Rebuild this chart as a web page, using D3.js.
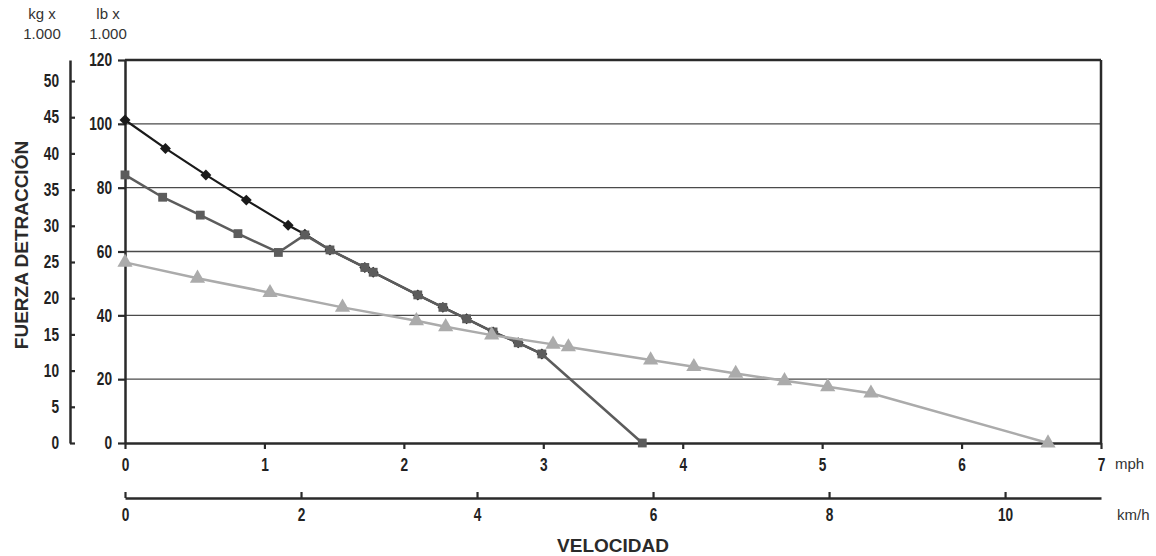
<!DOCTYPE html>
<html>
<head>
<meta charset="utf-8">
<script src="https://cdn.jsdelivr.net/npm/d3@7"></script>
<style>
  html, body { margin: 0; padding: 0; background: #fff; }
  svg { display: block; }
  .tick text { font-family: "Liberation Sans", Arial, sans-serif; font-weight: bold; font-size: 18px; fill: #222; }
</style>
</head>
<body>
<svg id="chart" width="1156" height="556"></svg>
<script>
// ---- data ----
const mphTicks = [0, 1, 2, 3, 4, 5, 6, 7];
const kmhTicks = [0, 2, 4, 6, 8, 10];
const lbTicks = [0, 20, 40, 60, 80, 100, 120];
const kgTicks = [0, 5, 10, 15, 20, 25, 30, 35, 40, 45, 50];
const gridLb = [20, 40, 60, 80, 100];

// Series 1 (black diamonds)
const mph1 = [0, 0.29, 0.58, 0.87, 1.17, 1.29, 1.47, 1.72, 1.78, 2.10, 2.28, 2.45, 2.64, 2.82, 2.99];
const lb1  = [101.2, 92.3, 84.0, 76.1, 68.2, 65.4, 60.5, 55.0, 53.5, 46.4, 42.5, 38.9, 34.8, 31.4, 27.9];
// Series 2 (dark grey squares)
const mph2 = [0, 0.27, 0.54, 0.81, 1.10, 1.29, 1.47, 1.72, 1.78, 2.10, 2.28, 2.45, 2.64, 2.82, 2.99, 3.71];
const lb2  = [84.0, 77.0, 71.4, 65.6, 59.7, 65.2, 60.5, 55.0, 53.5, 46.4, 42.5, 38.9, 34.8, 31.4, 27.9, 0];
// Series 3 (light grey triangles)
const mph3 = [0, 0.52, 1.04, 1.56, 2.09, 2.30, 2.63, 3.07, 3.18, 3.77, 4.08, 4.38, 4.73, 5.04, 5.35, 6.62];
const lb3  = [56.6, 51.6, 47.1, 42.5, 38.3, 36.4, 33.8, 30.9, 30.1, 26.0, 23.9, 21.8, 19.5, 17.6, 15.6, 0];

// ---- layout ----
const svg = d3.select("#chart");
const X0 = 125, X1 = 1101, Y0 = 443, Y1 = 60;
const x = d3.scaleLinear().domain([0, 7]).range([X0, X1]);
const y = d3.scaleLinear().domain([0, 120]).range([Y0, Y1]);
const yKg = d3.scaleLinear().domain([0, 52.9]).range([Y0, Y1]);
const xKmh = d3.scaleLinear().domain([0, 11.09]).range([X0, X1]);

const axisColor = "#2a2a2a";
const SX = 0.76; // horizontal condensing of tick digits

// gridlines
svg.append("g").selectAll("line").data(gridLb).join("line")
  .attr("x1", X0).attr("x2", X1)
  .attr("y1", d => y(d)).attr("y2", d => y(d))
  .attr("stroke", "#4a4a4a").attr("stroke-width", 1.3);

// top and right frame
svg.append("line").attr("x1", X0).attr("x2", X1).attr("y1", Y1).attr("y2", Y1)
  .attr("stroke", axisColor).attr("stroke-width", 2.5);
svg.append("line").attr("x1", X1).attr("x2", X1).attr("y1", Y1).attr("y2", Y0)
  .attr("stroke", axisColor).attr("stroke-width", 2.5);

function styleAxis(g) {
  g.select(".domain").attr("stroke", axisColor).attr("stroke-width", 2.5);
  g.selectAll(".tick line").attr("stroke", axisColor).attr("stroke-width", 2.2);
}
function condense(g, xoff) {
  g.selectAll(".tick text").each(function () {
    const t = d3.select(this);
    const x0 = xoff !== undefined ? xoff : (+t.attr("x") || 0);
    t.attr("x", x0 / SX).attr("transform", `scale(${SX},1)`);
  });
}

// lb axis (left of plot)
const gLb = svg.append("g").attr("transform", `translate(${X0},0)`)
  .call(d3.axisLeft(y).tickValues(lbTicks).tickSize(7).tickSizeOuter(0).tickPadding(6).tickFormat(d3.format("d")));
styleAxis(gLb);
condense(gLb);

// kg axis (outer left)
const gKg = svg.append("g").attr("transform", `translate(70,0)`)
  .call(d3.axisRight(yKg).tickValues(kgTicks).tickSize(5).tickSizeOuter(0).tickFormat(d3.format("d")));
styleAxis(gKg);
gKg.selectAll(".tick text").attr("text-anchor", "end");
condense(gKg, -11);

// mph axis
const gMph = svg.append("g").attr("transform", `translate(0,${Y0})`)
  .call(d3.axisBottom(x).tickValues(mphTicks).tickSize(6).tickSizeOuter(0).tickPadding(9).tickFormat(d3.format("d")));
styleAxis(gMph);
condense(gMph);

// km/h axis
const gKmh = svg.append("g").attr("transform", `translate(0,498)`)
  .call(d3.axisTop(xKmh).tickValues(kmhTicks).tickSize(6).tickSizeOuter(0).tickFormat(d3.format("d")));
styleAxis(gKmh);
gKmh.selectAll(".tick text").attr("y", 10).attr("dy", "0.71em");
condense(gKmh);

// series
const line = d3.line().x(d => x(d[0])).y(d => y(d[1]));
function drawSeries(mph, lb, color, width, symType, symSize, rot) {
  const pts = mph.map((m, i) => [m, lb[i]]);
  svg.append("path").datum(pts).attr("d", line)
    .attr("fill", "none").attr("stroke", color).attr("stroke-width", width)
    .attr("stroke-linejoin", "round");
  svg.append("g").selectAll("path").data(pts).join("path")
    .attr("d", d3.symbol(symType, symSize))
    .attr("transform", d => `translate(${x(d[0])},${y(d[1])}) rotate(${rot || 0})`)
    .attr("fill", color);
}
drawSeries(mph1, lb1, "#1a1a1a", 2.2, d3.symbolSquare, 60, 45);
drawSeries(mph2, lb2, "#5c5c5c", 2.5, d3.symbolSquare, 78);
drawSeries(mph3, lb3, "#ababab", 2.5, d3.symbolTriangle, 100);

// unit labels
const unitFont = "'Liberation Sans', Arial, sans-serif";
function txt(xp, yp, s, opts = {}) {
  return svg.append("text").attr("x", xp).attr("y", yp).text(s)
    .attr("font-family", opts.family || unitFont)
    .attr("font-size", opts.size || 15)
    .attr("font-weight", opts.weight || "normal")
    .attr("fill", opts.fill || "#333")
    .attr("text-anchor", opts.anchor || "middle");
}
txt(42, 19, "kg x");
txt(42, 39, "1.000");
txt(108, 19, "lb x");
txt(108, 39, "1.000");
txt(1115, 469, "mph", { anchor: "start", size: 15 });
txt(1117, 520, "km/h", { anchor: "start", size: 15 });

// axis titles
txt((X0 + X1) / 2, 552, "VELOCIDAD", { size: 19, weight: "bold", fill: "#2a2a2a" });
svg.append("text")
  .attr("transform", "translate(28,245) rotate(-90)")
  .attr("text-anchor", "middle")
  .attr("font-family", unitFont).attr("font-size", 19).attr("font-weight", "bold")
  .attr("fill", "#2a2a2a")
  .text("FUERZA DETRACCIÓN");
</script>
</body>
</html>
